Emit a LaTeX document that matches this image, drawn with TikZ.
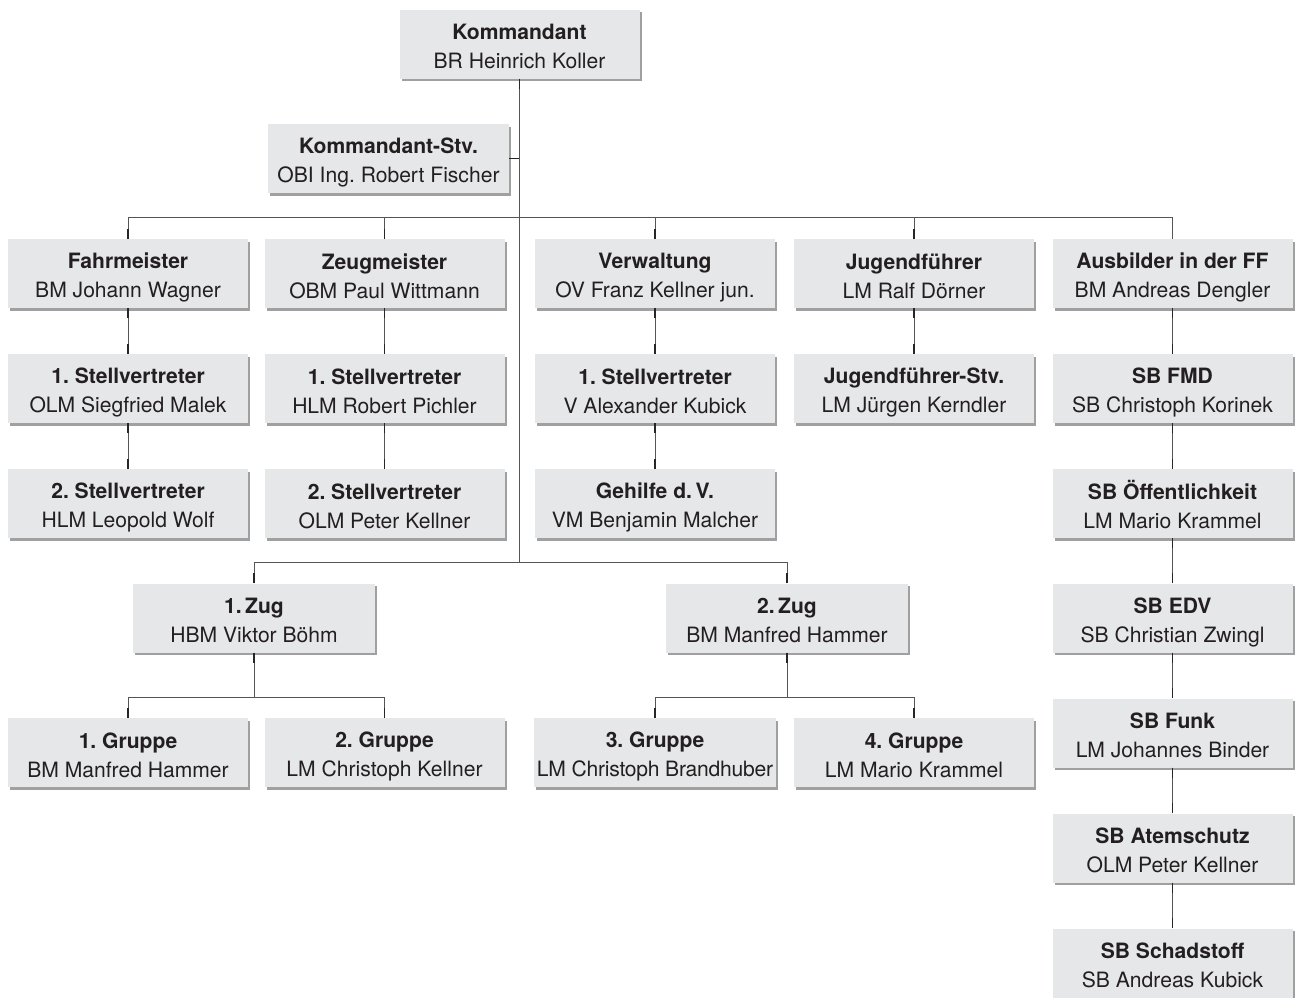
\documentclass[tikz,border=0pt]{standalone}
\usepackage{fontspec}
\setmainfont{TeX Gyre Heros}
\frenchspacing
\usetikzlibrary{shadows}
\definecolor{boxfill}{RGB}{230,231,232}
\definecolor{linecol}{RGB}{85,85,85}
\definecolor{shadowcol}{RGB}{150,150,150}
\definecolor{textcol}{RGB}{35,31,32}
\newcommand\orgtext[2]{\rule{0pt}{24pt}\textbf{#1}\\#2\rule[-4pt]{0pt}{4pt}}
\begin{document}
\begin{tikzpicture}[x=1pt,y=-1pt,
  orgbox/.style={fill=boxfill, text=textcol, minimum width=240pt, minimum height=69pt, inner sep=0pt,
    align=center, font=\fontsize{21.1}{29}\selectfont,
    drop shadow={shadow xshift=2.2pt, shadow yshift=-2.6pt, fill=shadowcol, opacity=0.9}},
  conn/.style={draw=linecol, line width=1pt},
  stub/.style={draw=black!85, line width=1.6pt}]
\useasboundingbox (0,0) rectangle (1298,997);

% top
\node[orgbox] (k) at (519.5,44) {\orgtext{Kommandant}{BR Heinrich Koller}};
\node[orgbox, minimum width=241pt] (ks) at (388.5,158.5) {\orgtext{Kommandant-Stv.}{OBI Ing. Robert Fischer}};

% row 1
\node[orgbox] (f)  at (128,273.5)   {\orgtext{Fahrmeister}{BM Johann Wagner}};
\node[orgbox] (z)  at (384.5,273.5) {\orgtext{Zeugmeister}{OBM Paul Wittmann}};
\node[orgbox] (v)  at (655,273.5)   {\orgtext{Verwaltung}{OV Franz Kellner jun.}};
\node[orgbox] (j)  at (914,273.5)   {\orgtext{Jugendführer}{LM Ralf Dörner}};
\node[orgbox] (a)  at (1172.5,273.5){\orgtext{Ausbilder in der FF}{BM Andreas Dengler}};

% row 2
\node[orgbox] (f1) at (128,388.5)   {\orgtext{1. Stellvertreter}{OLM Siegfried Malek}};
\node[orgbox] (z1) at (384.5,388.5) {\orgtext{1. Stellvertreter}{HLM Robert Pichler}};
\node[orgbox] (v1) at (655,388.5)   {\orgtext{1. Stellvertreter}{V Alexander Kubick}};
\node[orgbox] (j1) at (914,388.5)   {\orgtext{Jugendführer-Stv.}{LM Jürgen Kerndler}};
\node[orgbox] (a1) at (1172.5,388.5){\orgtext{SB FMD}{SB Christoph Korinek}};

% row 3
\node[orgbox] (f2) at (128,503.5)   {\orgtext{2. Stellvertreter}{HLM Leopold Wolf}};
\node[orgbox] (z2) at (384.5,503.5) {\orgtext{2. Stellvertreter}{OLM Peter Kellner}};
\node[orgbox] (v2) at (655,503.5)   {\orgtext{Gehilfe d.\,V.}{VM Benjamin Malcher}};
\node[orgbox] (a2) at (1172.5,503.5){\orgtext{SB Öffentlichkeit}{LM Mario Krammel}};

% Zug row
\node[orgbox, minimum width=242pt] (zug1) at (254,618) {\orgtext{1.\,Zug}{HBM Viktor Böhm}};
\node[orgbox, minimum width=242pt] (zug2) at (787,618) {\orgtext{2.\,Zug}{BM Manfred Hammer}};
\node[orgbox] (a3) at (1172.5,618) {\orgtext{SB EDV}{SB Christian Zwingl}};

% Gruppe row
\node[orgbox] (g1) at (128,752.5)   {\orgtext{1. Gruppe}{BM Manfred Hammer}};
\node[orgbox] (g2) at (384.5,752.5) {\orgtext{2. Gruppe}{LM Christoph Kellner}};
\node[orgbox, minimum width=242pt] (g3) at (655,752.5) {\orgtext{3. Gruppe}{\addfontfeature{LetterSpace=-1.2}LM Christoph Brandhuber}};
\node[orgbox] (g4) at (914,752.5)   {\orgtext{4. Gruppe}{LM Mario Krammel}};

% right column
\node[orgbox] (a4) at (1172.5,733)   {\orgtext{SB Funk}{LM Johannes Binder}};
\node[orgbox] (a5) at (1172.5,848)   {\orgtext{SB Atemschutz}{OLM Peter Kellner}};
\node[orgbox] (a6) at (1172.5,963)   {\orgtext{SB Schadstoff}{SB Andreas Kubick}};

% junction coordinates
\coordinate (hTop) at (519.5,217);
\coordinate (hZug) at (519.5,562);
\coordinate (stvJ) at (519.5,158.5);

% trunk
\draw[conn] (k.south) -- (hZug);
\draw[stub] (k.south) -- ++(0,10);
\draw[conn] (ks.east) -- (stvJ);
\draw[stub] (ks.east) -- ++(10,0);

% top distribution line
\draw[conn] (f.north) -- (f.north |- hTop) -- (a.north |- hTop) -- (a.north);
\foreach \n in {z,v,j}{
  \draw[conn] (\n.north) -- (\n.north |- hTop);
}
\foreach \n in {f,z,v,j}{
  \draw[stub] (\n.north) -- ++(0,-10);
}

% vertical chains
\foreach \u/\l in {f/f1,f1/f2,z/z1,z1/z2,v/v1,v1/v2,j/j1,a/a1,a1/a2,a2/a3,a3/a4,a4/a5,a5/a6}{
  \draw[conn] (\u.south) -- (\l.north);
  \draw[stub] (\u.south) -- ++(0,10);
  \draw[stub] (\l.north) -- ++(0,-10);
}

% Zug distribution
\draw[conn] (zug1.north) -- (zug1.north |- hZug) -- (zug2.north |- hZug) -- (zug2.north);
\draw[stub] (zug1.north) -- ++(0,-10);
\draw[stub] (zug2.north) -- ++(0,-10);

% Gruppe distribution
\coordinate (hG1) at (254,697);
\coordinate (hG2) at (787,697);
\draw[conn] (zug1.south) -- (hG1);
\draw[conn] (g1.north) -- (g1.north |- hG1) -- (g2.north |- hG1) -- (g2.north);
\draw[conn] (zug2.south) -- (hG2);
\draw[conn] (g3.north) -- (g3.north |- hG2) -- (g4.north |- hG2) -- (g4.north);
\foreach \n in {zug1,zug2}{
  \draw[stub] (\n.south) -- ++(0,10);
}
\foreach \n in {g1,g2,g3,g4}{
  \draw[stub] (\n.north) -- ++(0,-10);
}
\end{tikzpicture}
\end{document}
